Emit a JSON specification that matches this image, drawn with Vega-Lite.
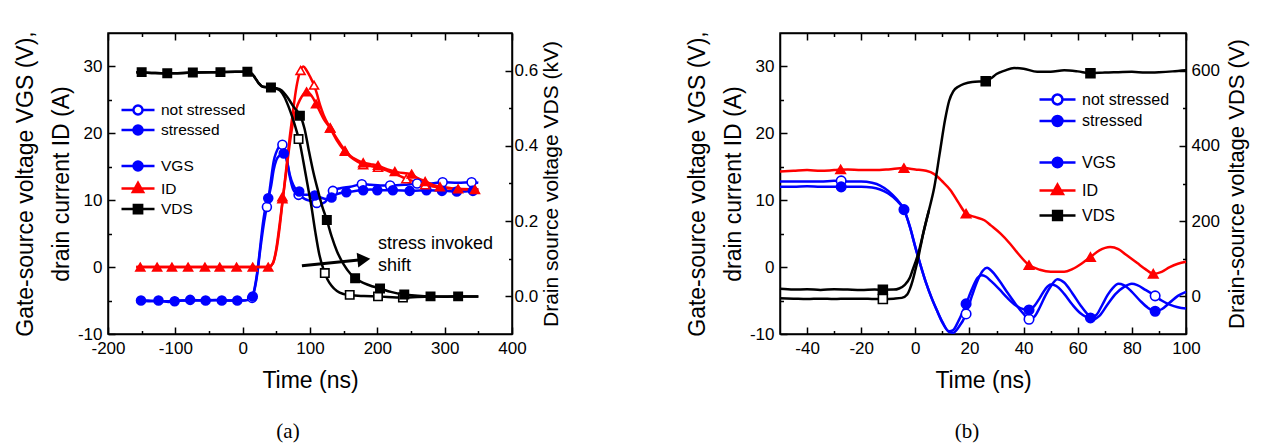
{
"$schema":"https://vega.github.io/schema/vega-lite/v6.json",
"padding":{"left":13,"top":29,"right":5,"bottom":0},
"background":"white",
"config":{
 "font":"Liberation Sans",
 "view":{"stroke":"black","strokeWidth":1.5},
 "axis":{"domainColor":"black","domainWidth":1.5,"tickColor":"black","tickWidth":1.5,"labelColor":"black","titleColor":"black","labelFont":"Liberation Sans","titleFont":"Liberation Sans","labelFontSize":17,"titleFontSize":23,"titleFontWeight":"normal","grid":false,"labelOverlap":false,"labelFlush":false,"labelBound":false},
 "legend":{"labelFont":"Liberation Sans","labelColor":"black"}
},
"datasets":{
"a":[
{"t":-155,"v":-5.0,"sig":"VGS","st":"s"},{"t":-140,"v":-5.1,"sig":"VGS","st":"s"},{"t":-125,"v":-5.0,"sig":"VGS","st":"s"},{"t":-110,"v":-5.2,"sig":"VGS","st":"s"},{"t":-100,"v":-5.1,"sig":"VGS","st":"s"},{"t":-90,"v":-5.0,"sig":"VGS","st":"s"},{"t":-75,"v":-4.9,"sig":"VGS","st":"s"},{"t":-60,"v":-5.0,"sig":"VGS","st":"s"},{"t":-50,"v":-5.0,"sig":"VGS","st":"s"},{"t":-40,"v":-4.9,"sig":"VGS","st":"s"},{"t":-25,"v":-5.0,"sig":"VGS","st":"s"},{"t":-10,"v":-5.0,"sig":"VGS","st":"s"},{"t":0,"v":-5.0,"sig":"VGS","st":"s"},{"t":8,"v":-4.9,"sig":"VGS","st":"s"},{"t":14,"v":-4.5,"sig":"VGS","st":"s"},{"t":18,"v":-3.0,"sig":"VGS","st":"s"},{"t":22,"v":-0.5,"sig":"VGS","st":"s"},{"t":26,"v":3.0,"sig":"VGS","st":"s"},{"t":30,"v":6.5,"sig":"VGS","st":"s"},{"t":34,"v":9.0,"sig":"VGS","st":"s"},{"t":38,"v":10.3,"sig":"VGS","st":"s"},{"t":42,"v":12.0,"sig":"VGS","st":"s"},{"t":46,"v":14.5,"sig":"VGS","st":"s"},{"t":50,"v":16.0,"sig":"VGS","st":"s"},{"t":55,"v":16.7,"sig":"VGS","st":"s"},{"t":60,"v":17.0,"sig":"VGS","st":"s"},{"t":63,"v":16.8,"sig":"VGS","st":"s"},{"t":66,"v":15.8,"sig":"VGS","st":"s"},{"t":70,"v":13.8,"sig":"VGS","st":"s"},{"t":75,"v":12.3,"sig":"VGS","st":"s"},{"t":80,"v":11.5,"sig":"VGS","st":"s"},{"t":85,"v":11.2,"sig":"VGS","st":"s"},{"t":92,"v":10.8,"sig":"VGS","st":"s"},{"t":100,"v":10.8,"sig":"VGS","st":"s"},{"t":108,"v":10.7,"sig":"VGS","st":"s"},{"t":116,"v":10.4,"sig":"VGS","st":"s"},{"t":124,"v":10.2,"sig":"VGS","st":"s"},{"t":132,"v":10.4,"sig":"VGS","st":"s"},{"t":140,"v":10.9,"sig":"VGS","st":"s"},{"t":150,"v":11.2,"sig":"VGS","st":"s"},{"t":160,"v":11.3,"sig":"VGS","st":"s"},{"t":175,"v":11.5,"sig":"VGS","st":"s"},{"t":190,"v":11.6,"sig":"VGS","st":"s"},{"t":205,"v":11.5,"sig":"VGS","st":"s"},{"t":225,"v":11.5,"sig":"VGS","st":"s"},{"t":250,"v":11.4,"sig":"VGS","st":"s"},{"t":275,"v":11.5,"sig":"VGS","st":"s"},{"t":300,"v":11.4,"sig":"VGS","st":"s"},{"t":325,"v":11.3,"sig":"VGS","st":"s"},{"t":350,"v":11.4,"sig":"VGS","st":"s"},
{"t":-155,"v":-5.0,"sig":"VGS","st":"n"},{"t":-140,"v":-5.0,"sig":"VGS","st":"n"},{"t":-125,"v":-5.1,"sig":"VGS","st":"n"},{"t":-110,"v":-5.1,"sig":"VGS","st":"n"},{"t":-100,"v":-5.0,"sig":"VGS","st":"n"},{"t":-75,"v":-5.0,"sig":"VGS","st":"n"},{"t":-50,"v":-4.9,"sig":"VGS","st":"n"},{"t":-25,"v":-5.0,"sig":"VGS","st":"n"},{"t":0,"v":-5.0,"sig":"VGS","st":"n"},{"t":8,"v":-4.9,"sig":"VGS","st":"n"},{"t":14,"v":-4.6,"sig":"VGS","st":"n"},{"t":18,"v":-3.2,"sig":"VGS","st":"n"},{"t":22,"v":-0.8,"sig":"VGS","st":"n"},{"t":26,"v":2.5,"sig":"VGS","st":"n"},{"t":30,"v":5.5,"sig":"VGS","st":"n"},{"t":34,"v":8.0,"sig":"VGS","st":"n"},{"t":38,"v":10.0,"sig":"VGS","st":"n"},{"t":42,"v":13.0,"sig":"VGS","st":"n"},{"t":46,"v":15.8,"sig":"VGS","st":"n"},{"t":50,"v":17.2,"sig":"VGS","st":"n"},{"t":54,"v":18.0,"sig":"VGS","st":"n"},{"t":58,"v":18.3,"sig":"VGS","st":"n"},{"t":62,"v":17.6,"sig":"VGS","st":"n"},{"t":66,"v":15.8,"sig":"VGS","st":"n"},{"t":70,"v":13.5,"sig":"VGS","st":"n"},{"t":75,"v":11.6,"sig":"VGS","st":"n"},{"t":80,"v":11.0,"sig":"VGS","st":"n"},{"t":86,"v":10.6,"sig":"VGS","st":"n"},{"t":92,"v":10.2,"sig":"VGS","st":"n"},{"t":100,"v":9.9,"sig":"VGS","st":"n"},{"t":108,"v":9.7,"sig":"VGS","st":"n"},{"t":116,"v":9.5,"sig":"VGS","st":"n"},{"t":122,"v":9.7,"sig":"VGS","st":"n"},{"t":128,"v":10.5,"sig":"VGS","st":"n"},{"t":134,"v":11.4,"sig":"VGS","st":"n"},{"t":145,"v":11.8,"sig":"VGS","st":"n"},{"t":160,"v":12.0,"sig":"VGS","st":"n"},{"t":177,"v":12.4,"sig":"VGS","st":"n"},{"t":190,"v":12.3,"sig":"VGS","st":"n"},{"t":205,"v":12.2,"sig":"VGS","st":"n"},{"t":220,"v":12.2,"sig":"VGS","st":"n"},{"t":240,"v":12.3,"sig":"VGS","st":"n"},{"t":260,"v":12.5,"sig":"VGS","st":"n"},{"t":280,"v":12.5,"sig":"VGS","st":"n"},{"t":297,"v":12.7,"sig":"VGS","st":"n"},{"t":320,"v":12.6,"sig":"VGS","st":"n"},{"t":340,"v":12.7,"sig":"VGS","st":"n"},{"t":350,"v":12.6,"sig":"VGS","st":"n"},
{"t":-158,"v":0,"sig":"ID","st":"s"},{"t":-120,"v":0,"sig":"ID","st":"s"},{"t":-80,"v":0,"sig":"ID","st":"s"},{"t":-40,"v":0,"sig":"ID","st":"s"},{"t":0,"v":0,"sig":"ID","st":"s"},{"t":30,"v":0,"sig":"ID","st":"s"},{"t":40,"v":0.1,"sig":"ID","st":"s"},{"t":45,"v":0.6,"sig":"ID","st":"s"},{"t":50,"v":2.5,"sig":"ID","st":"s"},{"t":55,"v":6.0,"sig":"ID","st":"s"},{"t":60,"v":10.5,"sig":"ID","st":"s"},{"t":65,"v":14.5,"sig":"ID","st":"s"},{"t":70,"v":18.5,"sig":"ID","st":"s"},{"t":75,"v":21.8,"sig":"ID","st":"s"},{"t":80,"v":23.8,"sig":"ID","st":"s"},{"t":85,"v":25.0,"sig":"ID","st":"s"},{"t":90,"v":25.8,"sig":"ID","st":"s"},{"t":95,"v":26.2,"sig":"ID","st":"s"},{"t":100,"v":25.9,"sig":"ID","st":"s"},{"t":105,"v":25.2,"sig":"ID","st":"s"},{"t":110,"v":24.2,"sig":"ID","st":"s"},{"t":115,"v":23.2,"sig":"ID","st":"s"},{"t":120,"v":22.2,"sig":"ID","st":"s"},{"t":130,"v":20.8,"sig":"ID","st":"s"},{"t":140,"v":19.2,"sig":"ID","st":"s"},{"t":150,"v":17.7,"sig":"ID","st":"s"},{"t":160,"v":16.6,"sig":"ID","st":"s"},{"t":170,"v":16.0,"sig":"ID","st":"s"},{"t":180,"v":15.6,"sig":"ID","st":"s"},{"t":190,"v":15.4,"sig":"ID","st":"s"},{"t":200,"v":15.2,"sig":"ID","st":"s"},{"t":215,"v":14.6,"sig":"ID","st":"s"},{"t":230,"v":14.2,"sig":"ID","st":"s"},{"t":250,"v":13.9,"sig":"ID","st":"s"},{"t":260,"v":13.3,"sig":"ID","st":"s"},{"t":272,"v":12.8,"sig":"ID","st":"s"},{"t":285,"v":12.2,"sig":"ID","st":"s"},{"t":295,"v":12.0,"sig":"ID","st":"s"},{"t":310,"v":11.8,"sig":"ID","st":"s"},{"t":330,"v":11.6,"sig":"ID","st":"s"},{"t":350,"v":11.6,"sig":"ID","st":"s"},
{"t":-158,"v":0,"sig":"ID","st":"n"},{"t":-120,"v":0,"sig":"ID","st":"n"},{"t":-80,"v":0,"sig":"ID","st":"n"},{"t":-40,"v":0,"sig":"ID","st":"n"},{"t":0,"v":0,"sig":"ID","st":"n"},{"t":30,"v":0,"sig":"ID","st":"n"},{"t":40,"v":0.1,"sig":"ID","st":"n"},{"t":45,"v":0.6,"sig":"ID","st":"n"},{"t":50,"v":2.8,"sig":"ID","st":"n"},{"t":55,"v":6.5,"sig":"ID","st":"n"},{"t":60,"v":10.5,"sig":"ID","st":"n"},{"t":65,"v":15.0,"sig":"ID","st":"n"},{"t":70,"v":19.5,"sig":"ID","st":"n"},{"t":75,"v":23.5,"sig":"ID","st":"n"},{"t":80,"v":27.0,"sig":"ID","st":"n"},{"t":85,"v":29.2,"sig":"ID","st":"n"},{"t":90,"v":30.0,"sig":"ID","st":"n"},{"t":95,"v":29.4,"sig":"ID","st":"n"},{"t":100,"v":28.5,"sig":"ID","st":"n"},{"t":106,"v":27.2,"sig":"ID","st":"n"},{"t":110,"v":26.0,"sig":"ID","st":"n"},{"t":115,"v":24.2,"sig":"ID","st":"n"},{"t":120,"v":22.8,"sig":"ID","st":"n"},{"t":130,"v":20.8,"sig":"ID","st":"n"},{"t":140,"v":18.9,"sig":"ID","st":"n"},{"t":150,"v":17.5,"sig":"ID","st":"n"},{"t":160,"v":16.5,"sig":"ID","st":"n"},{"t":170,"v":15.8,"sig":"ID","st":"n"},{"t":180,"v":15.3,"sig":"ID","st":"n"},{"t":190,"v":15.1,"sig":"ID","st":"n"},{"t":200,"v":14.9,"sig":"ID","st":"n"},{"t":215,"v":14.4,"sig":"ID","st":"n"},{"t":230,"v":13.8,"sig":"ID","st":"n"},{"t":243,"v":13.2,"sig":"ID","st":"n"},{"t":255,"v":12.8,"sig":"ID","st":"n"},{"t":270,"v":12.3,"sig":"ID","st":"n"},{"t":285,"v":12.0,"sig":"ID","st":"n"},{"t":300,"v":11.8,"sig":"ID","st":"n"},{"t":320,"v":11.7,"sig":"ID","st":"n"},{"t":350,"v":11.6,"sig":"ID","st":"n"},
{"t":-158,"v":0.596,"sig":"VDS","st":"s"},{"t":-130,"v":0.594,"sig":"VDS","st":"s"},{"t":-100,"v":0.593,"sig":"VDS","st":"s"},{"t":-70,"v":0.595,"sig":"VDS","st":"s"},{"t":-40,"v":0.596,"sig":"VDS","st":"s"},{"t":-10,"v":0.597,"sig":"VDS","st":"s"},{"t":5,"v":0.597,"sig":"VDS","st":"s"},{"t":12,"v":0.594,"sig":"VDS","st":"s"},{"t":18,"v":0.582,"sig":"VDS","st":"s"},{"t":24,"v":0.566,"sig":"VDS","st":"s"},{"t":30,"v":0.557,"sig":"VDS","st":"s"},{"t":40,"v":0.555,"sig":"VDS","st":"s"},{"t":50,"v":0.553,"sig":"VDS","st":"s"},{"t":58,"v":0.547,"sig":"VDS","st":"s"},{"t":64,"v":0.535,"sig":"VDS","st":"s"},{"t":70,"v":0.52,"sig":"VDS","st":"s"},{"t":76,"v":0.503,"sig":"VDS","st":"s"},{"t":82,"v":0.49,"sig":"VDS","st":"s"},{"t":86,"v":0.478,"sig":"VDS","st":"s"},{"t":92,"v":0.445,"sig":"VDS","st":"s"},{"t":98,"v":0.39,"sig":"VDS","st":"s"},{"t":105,"v":0.33,"sig":"VDS","st":"s"},{"t":112,"v":0.28,"sig":"VDS","st":"s"},{"t":118,"v":0.24,"sig":"VDS","st":"s"},{"t":125,"v":0.203,"sig":"VDS","st":"s"},{"t":132,"v":0.16,"sig":"VDS","st":"s"},{"t":140,"v":0.12,"sig":"VDS","st":"s"},{"t":150,"v":0.085,"sig":"VDS","st":"s"},{"t":160,"v":0.06,"sig":"VDS","st":"s"},{"t":167,"v":0.048,"sig":"VDS","st":"s"},{"t":180,"v":0.035,"sig":"VDS","st":"s"},{"t":192,"v":0.027,"sig":"VDS","st":"s"},{"t":204,"v":0.021,"sig":"VDS","st":"s"},{"t":220,"v":0.012,"sig":"VDS","st":"s"},{"t":240,"v":0.005,"sig":"VDS","st":"s"},{"t":260,"v":0.002,"sig":"VDS","st":"s"},{"t":280,"v":0.0,"sig":"VDS","st":"s"},{"t":300,"v":-0.001,"sig":"VDS","st":"s"},{"t":320,"v":0.0,"sig":"VDS","st":"s"},{"t":350,"v":0.0,"sig":"VDS","st":"s"},
{"t":-158,"v":0.596,"sig":"VDS","st":"n"},{"t":-130,"v":0.594,"sig":"VDS","st":"n"},{"t":-100,"v":0.593,"sig":"VDS","st":"n"},{"t":-70,"v":0.595,"sig":"VDS","st":"n"},{"t":-40,"v":0.596,"sig":"VDS","st":"n"},{"t":-10,"v":0.597,"sig":"VDS","st":"n"},{"t":5,"v":0.597,"sig":"VDS","st":"n"},{"t":12,"v":0.594,"sig":"VDS","st":"n"},{"t":18,"v":0.582,"sig":"VDS","st":"n"},{"t":24,"v":0.566,"sig":"VDS","st":"n"},{"t":30,"v":0.557,"sig":"VDS","st":"n"},{"t":40,"v":0.555,"sig":"VDS","st":"n"},{"t":50,"v":0.552,"sig":"VDS","st":"n"},{"t":56,"v":0.546,"sig":"VDS","st":"n"},{"t":62,"v":0.53,"sig":"VDS","st":"n"},{"t":68,"v":0.505,"sig":"VDS","st":"n"},{"t":74,"v":0.475,"sig":"VDS","st":"n"},{"t":80,"v":0.44,"sig":"VDS","st":"n"},{"t":84,"v":0.415,"sig":"VDS","st":"n"},{"t":90,"v":0.36,"sig":"VDS","st":"n"},{"t":96,"v":0.3,"sig":"VDS","st":"n"},{"t":102,"v":0.24,"sig":"VDS","st":"n"},{"t":108,"v":0.17,"sig":"VDS","st":"n"},{"t":114,"v":0.11,"sig":"VDS","st":"n"},{"t":120,"v":0.072,"sig":"VDS","st":"n"},{"t":126,"v":0.045,"sig":"VDS","st":"n"},{"t":132,"v":0.028,"sig":"VDS","st":"n"},{"t":140,"v":0.014,"sig":"VDS","st":"n"},{"t":150,"v":0.006,"sig":"VDS","st":"n"},{"t":160,"v":0.003,"sig":"VDS","st":"n"},{"t":180,"v":0.001,"sig":"VDS","st":"n"},{"t":200,"v":0.0,"sig":"VDS","st":"n"},{"t":238,"v":-0.003,"sig":"VDS","st":"n"},{"t":280,"v":0.0,"sig":"VDS","st":"n"},{"t":350,"v":0.0,"sig":"VDS","st":"n"}
],
"aMark":[
{"t":14,"v":-4.6,"sig":"VGS","st":"n"},{"t":36,"v":9.0,"sig":"VGS","st":"n"},{"t":59,"v":18.3,"sig":"VGS","st":"n"},{"t":83,"v":10.8,"sig":"VGS","st":"n"},{"t":110,"v":9.6,"sig":"VGS","st":"n"},{"t":134,"v":11.4,"sig":"VGS","st":"n"},{"t":177,"v":12.4,"sig":"VGS","st":"n"},{"t":219,"v":12.2,"sig":"VGS","st":"n"},{"t":259,"v":12.5,"sig":"VGS","st":"n"},{"t":297,"v":12.7,"sig":"VGS","st":"n"},{"t":340,"v":12.7,"sig":"VGS","st":"n"},
{"t":-151,"v":-5.0,"sig":"VGS","st":"s"},{"t":-125,"v":-5.0,"sig":"VGS","st":"s"},{"t":-101,"v":-5.1,"sig":"VGS","st":"s"},{"t":-78,"v":-4.9,"sig":"VGS","st":"s"},{"t":-55,"v":-5.0,"sig":"VGS","st":"s"},{"t":-31,"v":-5.0,"sig":"VGS","st":"s"},{"t":-8,"v":-5.0,"sig":"VGS","st":"s"},{"t":15,"v":-4.4,"sig":"VGS","st":"s"},{"t":38,"v":10.3,"sig":"VGS","st":"s"},{"t":61,"v":17.0,"sig":"VGS","st":"s"},{"t":84,"v":11.3,"sig":"VGS","st":"s"},{"t":107,"v":10.7,"sig":"VGS","st":"s"},{"t":132,"v":10.4,"sig":"VGS","st":"s"},{"t":154,"v":11.2,"sig":"VGS","st":"s"},{"t":179,"v":11.5,"sig":"VGS","st":"s"},{"t":200,"v":11.5,"sig":"VGS","st":"s"},{"t":223,"v":11.5,"sig":"VGS","st":"s"},{"t":248,"v":11.4,"sig":"VGS","st":"s"},{"t":273,"v":11.5,"sig":"VGS","st":"s"},{"t":296,"v":11.4,"sig":"VGS","st":"s"},{"t":318,"v":11.3,"sig":"VGS","st":"s"},{"t":342,"v":11.4,"sig":"VGS","st":"s"},
{"t":59,"v":10.5,"sig":"ID","st":"n"},{"t":86,"v":29.4,"sig":"ID","st":"n"},{"t":106,"v":27.2,"sig":"ID","st":"n"},{"t":130,"v":20.8,"sig":"ID","st":"n"},{"t":152,"v":17.3,"sig":"ID","st":"n"},{"t":179,"v":15.3,"sig":"ID","st":"n"},{"t":201,"v":14.9,"sig":"ID","st":"n"},{"t":243,"v":13.2,"sig":"ID","st":"n"},{"t":271,"v":12.3,"sig":"ID","st":"n"},
{"t":-152,"v":0,"sig":"ID","st":"s"},{"t":-127,"v":0,"sig":"ID","st":"s"},{"t":-105,"v":0,"sig":"ID","st":"s"},{"t":-81,"v":0,"sig":"ID","st":"s"},{"t":-56,"v":0,"sig":"ID","st":"s"},{"t":-34,"v":0,"sig":"ID","st":"s"},{"t":-9,"v":0,"sig":"ID","st":"s"},{"t":15,"v":0,"sig":"ID","st":"s"},{"t":38,"v":0,"sig":"ID","st":"s"},{"t":59,"v":10.2,"sig":"ID","st":"s"},{"t":95,"v":26.2,"sig":"ID","st":"s"},{"t":109,"v":24.4,"sig":"ID","st":"s"},{"t":130,"v":20.8,"sig":"ID","st":"s"},{"t":152,"v":17.4,"sig":"ID","st":"s"},{"t":179,"v":15.6,"sig":"ID","st":"s"},{"t":201,"v":15.2,"sig":"ID","st":"s"},{"t":226,"v":14.3,"sig":"ID","st":"s"},{"t":251,"v":13.9,"sig":"ID","st":"s"},{"t":271,"v":12.8,"sig":"ID","st":"s"},{"t":293,"v":12.0,"sig":"ID","st":"s"},{"t":320,"v":11.7,"sig":"ID","st":"s"},{"t":345,"v":11.6,"sig":"ID","st":"s"},
{"t":83,"v":0.418,"sig":"VDS","st":"n"},{"t":122,"v":0.062,"sig":"VDS","st":"n"},{"t":159,"v":0.004,"sig":"VDS","st":"n"},{"t":201,"v":0.0,"sig":"VDS","st":"n"},{"t":238,"v":-0.003,"sig":"VDS","st":"n"},
{"t":-150,"v":0.596,"sig":"VDS","st":"s"},{"t":-112,"v":0.593,"sig":"VDS","st":"s"},{"t":-74,"v":0.595,"sig":"VDS","st":"s"},{"t":-33,"v":0.596,"sig":"VDS","st":"s"},{"t":7,"v":0.597,"sig":"VDS","st":"s"},{"t":42,"v":0.555,"sig":"VDS","st":"s"},{"t":85,"v":0.48,"sig":"VDS","st":"s"},{"t":125,"v":0.203,"sig":"VDS","st":"s"},{"t":167,"v":0.048,"sig":"VDS","st":"s"},{"t":204,"v":0.021,"sig":"VDS","st":"s"},{"t":240,"v":0.005,"sig":"VDS","st":"s"},{"t":279,"v":0.0,"sig":"VDS","st":"s"},{"t":320,"v":0.0,"sig":"VDS","st":"s"}
],
"ann":[{"t":201,"v":4.8,"label":"stress invoked\nshift"}],
"arrow":[{"t":88,"v":0.2},{"t":176,"v":1.1}],
"head":[{"t":180,"v":1.15}],
"b":[
{"t":-50,"v":12.0,"sig":"VGS","st":"s"},{"t":-45,"v":12.0,"sig":"VGS","st":"s"},{"t":-40,"v":12.1,"sig":"VGS","st":"s"},{"t":-35,"v":12.0,"sig":"VGS","st":"s"},{"t":-30,"v":12.0,"sig":"VGS","st":"s"},{"t":-25,"v":12.0,"sig":"VGS","st":"s"},{"t":-20,"v":12.0,"sig":"VGS","st":"s"},{"t":-16,"v":11.9,"sig":"VGS","st":"s"},{"t":-13,"v":11.6,"sig":"VGS","st":"s"},{"t":-10,"v":11.0,"sig":"VGS","st":"s"},{"t":-7,"v":10.0,"sig":"VGS","st":"s"},{"t":-4.2,"v":8.6,"sig":"VGS","st":"s"},{"t":-2,"v":6.0,"sig":"VGS","st":"s"},{"t":0,"v":3.0,"sig":"VGS","st":"s"},{"t":2,"v":0.2,"sig":"VGS","st":"s"},{"t":4,"v":-2.4,"sig":"VGS","st":"s"},{"t":6,"v":-4.6,"sig":"VGS","st":"s"},{"t":8,"v":-6.5,"sig":"VGS","st":"s"},{"t":10,"v":-8.2,"sig":"VGS","st":"s"},{"t":12.5,"v":-9.6,"sig":"VGS","st":"s"},{"t":14,"v":-9.4,"sig":"VGS","st":"s"},{"t":16,"v":-8.0,"sig":"VGS","st":"s"},{"t":18.75,"v":-5.5,"sig":"VGS","st":"s"},{"t":21,"v":-3.2,"sig":"VGS","st":"s"},{"t":23,"v":-1.6,"sig":"VGS","st":"s"},{"t":24.5,"v":-1.2,"sig":"VGS","st":"s"},{"t":26,"v":-1.4,"sig":"VGS","st":"s"},{"t":28,"v":-2.1,"sig":"VGS","st":"s"},{"t":31,"v":-3.3,"sig":"VGS","st":"s"},{"t":34,"v":-4.6,"sig":"VGS","st":"s"},{"t":37,"v":-5.7,"sig":"VGS","st":"s"},{"t":40,"v":-6.3,"sig":"VGS","st":"s"},{"t":42,"v":-6.4,"sig":"VGS","st":"s"},{"t":44,"v":-5.8,"sig":"VGS","st":"s"},{"t":46,"v":-4.6,"sig":"VGS","st":"s"},{"t":48,"v":-3.3,"sig":"VGS","st":"s"},{"t":50,"v":-2.6,"sig":"VGS","st":"s"},{"t":52,"v":-2.8,"sig":"VGS","st":"s"},{"t":55,"v":-4.0,"sig":"VGS","st":"s"},{"t":58,"v":-5.6,"sig":"VGS","st":"s"},{"t":61,"v":-6.9,"sig":"VGS","st":"s"},{"t":64.7,"v":-7.6,"sig":"VGS","st":"s"},{"t":67,"v":-7.1,"sig":"VGS","st":"s"},{"t":69,"v":-5.7,"sig":"VGS","st":"s"},{"t":71,"v":-4.2,"sig":"VGS","st":"s"},{"t":73,"v":-3.1,"sig":"VGS","st":"s"},{"t":75,"v":-2.5,"sig":"VGS","st":"s"},{"t":77,"v":-2.7,"sig":"VGS","st":"s"},{"t":80,"v":-3.7,"sig":"VGS","st":"s"},{"t":83,"v":-5.0,"sig":"VGS","st":"s"},{"t":86,"v":-6.1,"sig":"VGS","st":"s"},{"t":88.6,"v":-6.6,"sig":"VGS","st":"s"},{"t":91,"v":-6.3,"sig":"VGS","st":"s"},{"t":94,"v":-5.3,"sig":"VGS","st":"s"},{"t":97,"v":-4.3,"sig":"VGS","st":"s"},{"t":100,"v":-3.7,"sig":"VGS","st":"s"},
{"t":-50,"v":12.8,"sig":"VGS","st":"n"},{"t":-45,"v":12.8,"sig":"VGS","st":"n"},{"t":-40,"v":12.8,"sig":"VGS","st":"n"},{"t":-35,"v":12.8,"sig":"VGS","st":"n"},{"t":-30,"v":12.9,"sig":"VGS","st":"n"},{"t":-25,"v":12.8,"sig":"VGS","st":"n"},{"t":-20,"v":12.8,"sig":"VGS","st":"n"},{"t":-16,"v":12.6,"sig":"VGS","st":"n"},{"t":-13,"v":12.2,"sig":"VGS","st":"n"},{"t":-10,"v":11.4,"sig":"VGS","st":"n"},{"t":-7,"v":10.2,"sig":"VGS","st":"n"},{"t":-4.2,"v":8.6,"sig":"VGS","st":"n"},{"t":-2,"v":6.0,"sig":"VGS","st":"n"},{"t":0,"v":3.0,"sig":"VGS","st":"n"},{"t":2,"v":0.2,"sig":"VGS","st":"n"},{"t":4,"v":-2.4,"sig":"VGS","st":"n"},{"t":6,"v":-4.6,"sig":"VGS","st":"n"},{"t":8,"v":-6.5,"sig":"VGS","st":"n"},{"t":10,"v":-8.3,"sig":"VGS","st":"n"},{"t":12.5,"v":-9.7,"sig":"VGS","st":"n"},{"t":14,"v":-9.8,"sig":"VGS","st":"n"},{"t":16,"v":-9.0,"sig":"VGS","st":"n"},{"t":18.75,"v":-7.0,"sig":"VGS","st":"n"},{"t":21,"v":-4.2,"sig":"VGS","st":"n"},{"t":23,"v":-2.0,"sig":"VGS","st":"n"},{"t":25,"v":-0.5,"sig":"VGS","st":"n"},{"t":26.5,"v":-0.1,"sig":"VGS","st":"n"},{"t":28,"v":-0.5,"sig":"VGS","st":"n"},{"t":31,"v":-2.0,"sig":"VGS","st":"n"},{"t":34,"v":-3.8,"sig":"VGS","st":"n"},{"t":37,"v":-5.5,"sig":"VGS","st":"n"},{"t":40,"v":-7.0,"sig":"VGS","st":"n"},{"t":42,"v":-7.8,"sig":"VGS","st":"n"},{"t":44,"v":-7.4,"sig":"VGS","st":"n"},{"t":46,"v":-6.0,"sig":"VGS","st":"n"},{"t":48,"v":-4.3,"sig":"VGS","st":"n"},{"t":50,"v":-2.9,"sig":"VGS","st":"n"},{"t":52.5,"v":-1.8,"sig":"VGS","st":"n"},{"t":55,"v":-2.3,"sig":"VGS","st":"n"},{"t":58,"v":-3.9,"sig":"VGS","st":"n"},{"t":61,"v":-5.7,"sig":"VGS","st":"n"},{"t":64,"v":-7.2,"sig":"VGS","st":"n"},{"t":66,"v":-7.8,"sig":"VGS","st":"n"},{"t":68,"v":-7.3,"sig":"VGS","st":"n"},{"t":71,"v":-5.6,"sig":"VGS","st":"n"},{"t":74,"v":-4.0,"sig":"VGS","st":"n"},{"t":77,"v":-3.0,"sig":"VGS","st":"n"},{"t":80,"v":-2.5,"sig":"VGS","st":"n"},{"t":82,"v":-2.7,"sig":"VGS","st":"n"},{"t":85,"v":-3.4,"sig":"VGS","st":"n"},{"t":88.6,"v":-4.3,"sig":"VGS","st":"n"},{"t":91,"v":-5.0,"sig":"VGS","st":"n"},{"t":94,"v":-5.6,"sig":"VGS","st":"n"},{"t":97,"v":-6.0,"sig":"VGS","st":"n"},{"t":100,"v":-6.2,"sig":"VGS","st":"n"},
{"t":-50,"v":14.3,"sig":"ID","st":"s"},{"t":-45,"v":14.4,"sig":"ID","st":"s"},{"t":-40,"v":14.5,"sig":"ID","st":"s"},{"t":-35,"v":14.4,"sig":"ID","st":"s"},{"t":-30,"v":14.5,"sig":"ID","st":"s"},{"t":-25,"v":14.6,"sig":"ID","st":"s"},{"t":-20,"v":14.5,"sig":"ID","st":"s"},{"t":-15,"v":14.5,"sig":"ID","st":"s"},{"t":-10,"v":14.6,"sig":"ID","st":"s"},{"t":-4.2,"v":14.8,"sig":"ID","st":"s"},{"t":0,"v":14.6,"sig":"ID","st":"s"},{"t":4,"v":14.4,"sig":"ID","st":"s"},{"t":7,"v":13.9,"sig":"ID","st":"s"},{"t":10,"v":12.8,"sig":"ID","st":"s"},{"t":13,"v":11.5,"sig":"ID","st":"s"},{"t":16,"v":9.6,"sig":"ID","st":"s"},{"t":18.75,"v":8.0,"sig":"ID","st":"s"},{"t":22,"v":7.5,"sig":"ID","st":"s"},{"t":25.5,"v":7.0,"sig":"ID","st":"s"},{"t":28,"v":6.2,"sig":"ID","st":"s"},{"t":31.5,"v":5.0,"sig":"ID","st":"s"},{"t":35,"v":3.5,"sig":"ID","st":"s"},{"t":38,"v":2.0,"sig":"ID","st":"s"},{"t":42,"v":0.3,"sig":"ID","st":"s"},{"t":46,"v":-0.4,"sig":"ID","st":"s"},{"t":50,"v":-0.7,"sig":"ID","st":"s"},{"t":55,"v":-0.7,"sig":"ID","st":"s"},{"t":58,"v":-0.3,"sig":"ID","st":"s"},{"t":62,"v":0.7,"sig":"ID","st":"s"},{"t":64.7,"v":1.5,"sig":"ID","st":"s"},{"t":68,"v":2.5,"sig":"ID","st":"s"},{"t":72,"v":3.0,"sig":"ID","st":"s"},{"t":75,"v":2.7,"sig":"ID","st":"s"},{"t":78,"v":1.8,"sig":"ID","st":"s"},{"t":82,"v":0.6,"sig":"ID","st":"s"},{"t":85,"v":-0.3,"sig":"ID","st":"s"},{"t":87.9,"v":-1.0,"sig":"ID","st":"s"},{"t":91,"v":-0.7,"sig":"ID","st":"s"},{"t":94,"v":0.0,"sig":"ID","st":"s"},{"t":97,"v":0.5,"sig":"ID","st":"s"},{"t":100,"v":0.8,"sig":"ID","st":"s"},
{"t":-50,"v":20,"sig":"VDS","st":"s"},{"t":-45,"v":18,"sig":"VDS","st":"s"},{"t":-40,"v":19,"sig":"VDS","st":"s"},{"t":-35,"v":17,"sig":"VDS","st":"s"},{"t":-30,"v":19,"sig":"VDS","st":"s"},{"t":-25,"v":18,"sig":"VDS","st":"s"},{"t":-20,"v":17,"sig":"VDS","st":"s"},{"t":-15,"v":18,"sig":"VDS","st":"s"},{"t":-12,"v":17.7,"sig":"VDS","st":"s"},{"t":-8,"v":18,"sig":"VDS","st":"s"},{"t":-6,"v":21,"sig":"VDS","st":"s"},{"t":-4,"v":30,"sig":"VDS","st":"s"},{"t":-2,"v":50,"sig":"VDS","st":"s"},{"t":-1,"v":70,"sig":"VDS","st":"s"},{"t":0,"v":90,"sig":"VDS","st":"s"},{"t":1,"v":112,"sig":"VDS","st":"s"},{"t":3,"v":170,"sig":"VDS","st":"s"},{"t":5,"v":228,"sig":"VDS","st":"s"},{"t":7,"v":290,"sig":"VDS","st":"s"},{"t":9,"v":380,"sig":"VDS","st":"s"},{"t":11,"v":470,"sig":"VDS","st":"s"},{"t":12.5,"v":520,"sig":"VDS","st":"s"},{"t":14,"v":545,"sig":"VDS","st":"s"},{"t":16,"v":558,"sig":"VDS","st":"s"},{"t":18,"v":565,"sig":"VDS","st":"s"},{"t":21,"v":570,"sig":"VDS","st":"s"},{"t":26,"v":572,"sig":"VDS","st":"s"},{"t":28,"v":580,"sig":"VDS","st":"s"},{"t":30,"v":591,"sig":"VDS","st":"s"},{"t":33,"v":600,"sig":"VDS","st":"s"},{"t":36.5,"v":607,"sig":"VDS","st":"s"},{"t":40,"v":605,"sig":"VDS","st":"s"},{"t":45,"v":597,"sig":"VDS","st":"s"},{"t":50,"v":597,"sig":"VDS","st":"s"},{"t":55,"v":601,"sig":"VDS","st":"s"},{"t":60,"v":598,"sig":"VDS","st":"s"},{"t":64.7,"v":593,"sig":"VDS","st":"s"},{"t":70,"v":595,"sig":"VDS","st":"s"},{"t":75,"v":596,"sig":"VDS","st":"s"},{"t":80,"v":597,"sig":"VDS","st":"s"},{"t":85,"v":595,"sig":"VDS","st":"s"},{"t":90,"v":596,"sig":"VDS","st":"s"},{"t":95,"v":598,"sig":"VDS","st":"s"},{"t":100,"v":601,"sig":"VDS","st":"s"},
{"t":-50,"v":-5,"sig":"VDS","st":"n"},{"t":-45,"v":-6,"sig":"VDS","st":"n"},{"t":-40,"v":-7,"sig":"VDS","st":"n"},{"t":-35,"v":-6,"sig":"VDS","st":"n"},{"t":-30,"v":-7,"sig":"VDS","st":"n"},{"t":-25,"v":-6,"sig":"VDS","st":"n"},{"t":-20,"v":-6,"sig":"VDS","st":"n"},{"t":-15,"v":-7,"sig":"VDS","st":"n"},{"t":-12,"v":-7,"sig":"VDS","st":"n"},{"t":-8,"v":-6,"sig":"VDS","st":"n"},{"t":-5,"v":-4,"sig":"VDS","st":"n"},{"t":-3,"v":5,"sig":"VDS","st":"n"},{"t":-2,"v":20,"sig":"VDS","st":"n"},{"t":-1,"v":42,"sig":"VDS","st":"n"},{"t":0,"v":70,"sig":"VDS","st":"n"},{"t":1,"v":100,"sig":"VDS","st":"n"},{"t":2,"v":135,"sig":"VDS","st":"n"},{"t":3,"v":170,"sig":"VDS","st":"n"},{"t":5,"v":228,"sig":"VDS","st":"n"}
],
"bMark":[
{"t":-27.4,"v":12.9,"sig":"VGS","st":"n"},{"t":18.75,"v":-7.0,"sig":"VGS","st":"n"},{"t":42,"v":-7.8,"sig":"VGS","st":"n"},{"t":88.6,"v":-4.3,"sig":"VGS","st":"n"},
{"t":-27.4,"v":12.0,"sig":"VGS","st":"s"},{"t":-4.2,"v":8.6,"sig":"VGS","st":"s"},{"t":18.75,"v":-5.5,"sig":"VGS","st":"s"},{"t":42,"v":-6.4,"sig":"VGS","st":"s"},{"t":64.7,"v":-7.6,"sig":"VGS","st":"s"},{"t":88.6,"v":-6.6,"sig":"VGS","st":"s"},
{"t":-27.6,"v":14.6,"sig":"ID","st":"s"},{"t":-4.2,"v":14.8,"sig":"ID","st":"s"},{"t":18.75,"v":8.0,"sig":"ID","st":"s"},{"t":42,"v":0.3,"sig":"ID","st":"s"},{"t":64.7,"v":1.5,"sig":"ID","st":"s"},{"t":87.9,"v":-1.0,"sig":"ID","st":"s"},
{"t":-12,"v":-7,"sig":"VDS","st":"n"},
{"t":-12,"v":17.7,"sig":"VDS","st":"s"},{"t":26,"v":572,"sig":"VDS","st":"s"},{"t":64.7,"v":593,"sig":"VDS","st":"s"}
]
},
"hconcat":[
{
"width":404,"height":301,
"title":{"text":"(a)","orient":"bottom","font":"Liberation Serif","fontSize":21,"fontWeight":"normal","offset":28,"anchor":"middle","frame":"bounds","color":"black"},
"layer":[
 {
 "encoding":{
  "x":{"field":"t","type":"quantitative","scale":{"domain":[-200,400],"nice":false},"axis":{"orient":"bottom","values":[-200,-150,-100,-50,0,50,100,150,200,250,300,350,400],"labelExpr":"datum.value % 100 == 0 ? '' + datum.value : ''","tickSize":{"condition":{"test":"datum.value % 100 != 0","value":-3.5},"value":-7},"labelPadding":13,"title":"Time (ns)","titlePadding":10}},
  "y":{"field":"v","type":"quantitative","scale":{"domain":[-10,35],"nice":false,"zero":false},"axis":{"orient":"left","values":[-10,-5,0,5,10,15,20,25,30],"labelExpr":"datum.value % 10 == 0 ? '' + datum.value : ''","tickSize":{"condition":{"test":"datum.value % 10 != 0","value":-3.5},"value":-7},"labelPadding":13,"title":["Gate-source voltage VGS (V),","drain current ID (A)"],"titleLineHeight":36,"titlePadding":4}}
 },
 "layer":[
  {"data":{"name":"a"},"transform":[{"filter":"datum.sig != 'VDS'"}],"mark":{"type":"line","strokeWidth":2.5,"interpolate":"monotone"},
   "encoding":{"detail":{"field":"st"},
    "stroke":{"field":"sig","type":"nominal","scale":{"domain":["VGS","ID","VDS"],"range":["#0000ff","#ff0000","#000000"]},"legend":{"title":null,"orient":"none","legendX":21,"legendY":124,"padding":0,"symbolSize":225,"symbolStrokeWidth":2.5,"symbolOpacity":1,"symbolFillColor":"transparent","labelFontSize":15.5,"labelOffset":14,"rowPadding":1.5}}}},
  {"data":{"name":"aMark"},"transform":[{"filter":"datum.sig == 'VGS'"},{"calculate":"datum.st=='n'?'not stressed':(datum.sig=='VGS'?'stressed':datum.sig)","as":"fk"}],"mark":{"type":"point","shape":"circle","filled":true,"size":80,"strokeWidth":1.6,"opacity":1},
   "encoding":{
    "stroke":{"field":"sig","type":"nominal","scale":{"domain":["VGS","ID","VDS"],"range":["#0000ff","#ff0000","#000000"]},"legend":{"title":null,"orient":"none","legendX":21,"legendY":124,"padding":0,"symbolSize":225,"symbolStrokeWidth":2.5,"symbolOpacity":1,"symbolFillColor":"transparent","labelFontSize":15.5,"labelOffset":14,"rowPadding":1.5}},
    "fill":{"field":"fk","type":"nominal","scale":{"domain":["not stressed","stressed","ID","VDS"],"range":["#ffffff","#0000ff","#ff0000","#000000"]},"legend":{"title":null,"orient":"none","legendX":21,"legendY":68,"padding":0,"values":["not stressed","stressed"],"symbolType":"M-2.2,0L-0.61,0M0.61,0L2.2,0M0.61,0A0.61,0.61,0,1,1,-0.61,0A0.61,0.61,0,1,1,0.61,0Z","symbolSize":225,"symbolStrokeColor":"#0000ff","symbolStrokeWidth":2.5,"symbolOpacity":1,"labelFontSize":15.5,"labelOffset":14,"rowPadding":0}}
   }},
  {"data":{"name":"aMark"},"transform":[{"filter":"datum.sig == 'ID'"},{"calculate":"datum.st=='n'?'not stressed':(datum.sig=='VGS'?'stressed':datum.sig)","as":"fk"}],"mark":{"type":"point","shape":"triangle-up","filled":true,"size":80,"strokeWidth":1.6,"opacity":1},
   "encoding":{
    "stroke":{"field":"sig","type":"nominal","scale":{"domain":["VGS","ID","VDS"],"range":["#0000ff","#ff0000","#000000"]},"legend":{"title":null,"orient":"none","legendX":21,"legendY":124,"padding":0,"symbolSize":225,"symbolStrokeWidth":2.5,"symbolOpacity":1,"symbolFillColor":"transparent","labelFontSize":15.5,"labelOffset":14,"rowPadding":1.5}},
    "fill":{"field":"fk","type":"nominal","scale":{"domain":["not stressed","stressed","ID","VDS"],"range":["#ffffff","#0000ff","#ff0000","#000000"]},"legend":{"title":null,"orient":"none","legendX":21,"legendY":68,"padding":0,"values":["not stressed","stressed"],"symbolType":"M-2.2,0L-0.61,0M0.61,0L2.2,0M0.61,0A0.61,0.61,0,1,1,-0.61,0A0.61,0.61,0,1,1,0.61,0Z","symbolSize":225,"symbolStrokeColor":"#0000ff","symbolStrokeWidth":2.5,"symbolOpacity":1,"labelFontSize":15.5,"labelOffset":14,"rowPadding":0}}
   }},
  {"data":{"name":"aMark"},"transform":[{"filter":"datum.sig != 'VDS'"}],"mark":{"type":"point","filled":false,"size":10,"opacity":0,"clip":true},
   "encoding":{
    "shape":{"field":"sig","type":"nominal","scale":{"domain":["VGS","ID","VDS"],"range":["M-2.2,0L2.2,0M0.6,0A0.6,0.6,0,1,1,-0.6,0A0.6,0.6,0,1,1,0.6,0M0.33,0A0.33,0.33,0,1,1,-0.33,0A0.33,0.33,0,1,1,0.33,0M0.1,0A0.1,0.1,0,1,1,-0.1,0A0.1,0.1,0,1,1,0.1,0","M-2.2,0L2.2,0M0,-0.75L0.68,0.45L-0.68,0.45ZM0,-0.4L0.37,0.25L-0.37,0.25ZM0,-0.1L0.12,0.12L-0.12,0.12Z","M-2.2,0L2.2,0M-0.55,-0.55L0.55,-0.55L0.55,0.55L-0.55,0.55ZM-0.3,-0.3L0.3,-0.3L0.3,0.3L-0.3,0.3ZM-0.08,-0.08L0.08,-0.08L0.08,0.08L-0.08,0.08Z"]},"legend":{"title":null,"orient":"none","legendX":21,"legendY":124,"padding":0,"symbolSize":225,"symbolStrokeWidth":2.5,"symbolOpacity":1,"symbolFillColor":"transparent","labelFontSize":15.5,"labelOffset":14,"rowPadding":1.5}},
    "stroke":{"field":"sig","type":"nominal","scale":{"domain":["VGS","ID","VDS"],"range":["#0000ff","#ff0000","#000000"]},"legend":{"title":null,"orient":"none","legendX":21,"legendY":124,"padding":0,"symbolSize":225,"symbolStrokeWidth":2.5,"symbolOpacity":1,"symbolFillColor":"transparent","labelFontSize":15.5,"labelOffset":14,"rowPadding":1.5}}
   }},
  {"data":{"name":"ann"},"mark":{"type":"text","align":"left","baseline":"top","fontSize":18,"lineBreak":"\n","lineHeight":22,"font":"Liberation Sans","color":"black"},"encoding":{"text":{"field":"label"}}},
  {"data":{"name":"arrow"},"mark":{"type":"line","color":"black","strokeWidth":3},"encoding":{}},
  {"data":{"name":"head"},"mark":{"type":"point","shape":"triangle-right","filled":true,"color":"black","size":220,"angle":-6,"opacity":1},"encoding":{}}
 ]
 },
 {
 "encoding":{
  "x":{"field":"t","type":"quantitative","scale":{"domain":[-200,400],"nice":false},"axis":{"orient":"top","values":[-200,-150,-100,-50,0,50,100,150,200,250,300,350,400],"labels":false,"title":null,"tickSize":{"condition":{"test":"datum.value % 100 != 0","value":-3.5},"value":-7}}},
  "y":{"field":"v","type":"quantitative","scale":{"domain":[-0.1,0.7],"nice":false,"zero":false},"axis":{"orient":"right","values":[0,0.1,0.2,0.3,0.4,0.5,0.6],"labelExpr":"round(datum.value*10) % 2 == 0 ? format(datum.value, '.1f') : ''","tickSize":{"condition":{"test":"round(datum.value*10) % 2 != 0","value":-3.5},"value":-7},"labelPadding":9,"title":"Drain source voltage VDS (kV)","titleFontSize":21,"titleAngle":270,"titleBaseline":"top","titlePadding":3}}
 },
 "layer":[
  {"data":{"name":"a"},"transform":[{"filter":"datum.sig == 'VDS'"}],"mark":{"type":"line","strokeWidth":2.5,"interpolate":"monotone"},
   "encoding":{"detail":{"field":"st"},
    "stroke":{"field":"sig","type":"nominal","scale":{"domain":["VGS","ID","VDS"],"range":["#0000ff","#ff0000","#000000"]},"legend":{"title":null,"orient":"none","legendX":21,"legendY":124,"padding":0,"symbolSize":225,"symbolStrokeWidth":2.5,"symbolOpacity":1,"symbolFillColor":"transparent","labelFontSize":15.5,"labelOffset":14,"rowPadding":1.5}}}},
  {"data":{"name":"aMark"},"transform":[{"filter":"datum.sig == 'VDS'"},{"calculate":"datum.st=='n'?'not stressed':(datum.sig=='VGS'?'stressed':datum.sig)","as":"fk"}],"mark":{"type":"point","shape":"square","filled":true,"size":70,"strokeWidth":1.6,"opacity":1},
   "encoding":{
    "stroke":{"field":"sig","type":"nominal","scale":{"domain":["VGS","ID","VDS"],"range":["#0000ff","#ff0000","#000000"]},"legend":{"title":null,"orient":"none","legendX":21,"legendY":124,"padding":0,"symbolSize":225,"symbolStrokeWidth":2.5,"symbolOpacity":1,"symbolFillColor":"transparent","labelFontSize":15.5,"labelOffset":14,"rowPadding":1.5}},
    "fill":{"field":"fk","type":"nominal","scale":{"domain":["not stressed","stressed","ID","VDS"],"range":["#ffffff","#0000ff","#ff0000","#000000"]},"legend":{"title":null,"orient":"none","legendX":21,"legendY":68,"padding":0,"values":["not stressed","stressed"],"symbolType":"M-2.2,0L-0.61,0M0.61,0L2.2,0M0.61,0A0.61,0.61,0,1,1,-0.61,0A0.61,0.61,0,1,1,0.61,0Z","symbolSize":225,"symbolStrokeColor":"#0000ff","symbolStrokeWidth":2.5,"symbolOpacity":1,"labelFontSize":15.5,"labelOffset":14,"rowPadding":0}}
   }}
 ]
 }
],
"resolve":{"scale":{"y":"independent"},"axis":{"x":"independent"}}
},
{
"width":406,"height":301,
"title":{"text":"(b)","orient":"bottom","font":"Liberation Serif","fontSize":21,"fontWeight":"normal","offset":28,"anchor":"middle","frame":"bounds","color":"black"},
"layer":[
 {
 "encoding":{
  "x":{"field":"t","type":"quantitative","scale":{"domain":[-50,100],"nice":false},"axis":{"orient":"bottom","values":[-40,-30,-20,-10,0,10,20,30,40,50,60,70,80,90,100],"labelExpr":"datum.value % 20 == 0 ? '' + datum.value : ''","tickSize":{"condition":{"test":"datum.value % 20 != 0","value":-3.5},"value":-7},"labelPadding":13,"title":"Time (ns)","titlePadding":10}},
  "y":{"field":"v","type":"quantitative","scale":{"domain":[-10,35],"nice":false,"zero":false},"axis":{"orient":"left","values":[-10,-5,0,5,10,15,20,25,30],"labelExpr":"datum.value % 10 == 0 ? '' + datum.value : ''","tickSize":{"condition":{"test":"datum.value % 10 != 0","value":-3.5},"value":-7},"labelPadding":13,"title":["Gate-source voltage VGS (V),","drain current ID (A)"],"titleLineHeight":36,"titlePadding":4}}
 },
 "layer":[
  {"data":{"name":"b"},"transform":[{"filter":"datum.sig != 'VDS'"}],"mark":{"type":"line","strokeWidth":2.5,"interpolate":"monotone"},
   "encoding":{"detail":{"field":"st"},
    "stroke":{"field":"sig","type":"nominal","scale":{"domain":["VGS","ID","VDS"],"range":["#0000ff","#ff0000","#000000"]},"legend":{"title":null,"orient":"none","legendX":268,"legendY":120,"padding":0,"symbolSize":256,"symbolStrokeWidth":2.5,"symbolOpacity":1,"symbolFillColor":"transparent","labelFontSize":16,"labelOffset":15,"rowPadding":6}}}},
  {"data":{"name":"bMark"},"transform":[{"filter":"datum.sig == 'VGS'"},{"calculate":"datum.st=='n'?'not stressed':(datum.sig=='VGS'?'stressed':datum.sig)","as":"fk"}],"mark":{"type":"point","shape":"circle","filled":true,"size":90,"strokeWidth":1.6,"opacity":1},
   "encoding":{
    "stroke":{"field":"sig","type":"nominal","scale":{"domain":["VGS","ID","VDS"],"range":["#0000ff","#ff0000","#000000"]},"legend":{"title":null,"orient":"none","legendX":268,"legendY":120,"padding":0,"symbolSize":256,"symbolStrokeWidth":2.5,"symbolOpacity":1,"symbolFillColor":"transparent","labelFontSize":16,"labelOffset":15,"rowPadding":6}},
    "fill":{"field":"fk","type":"nominal","scale":{"domain":["not stressed","stressed","ID","VDS"],"range":["#ffffff","#0000ff","#ff0000","#000000"]},"legend":{"title":null,"orient":"none","legendX":268,"legendY":57,"padding":0,"values":["not stressed","stressed"],"symbolType":"M-2.25,0L-0.62,0M0.62,0L2.25,0M0.62,0A0.62,0.62,0,1,1,-0.62,0A0.62,0.62,0,1,1,0.62,0Z","symbolSize":256,"symbolStrokeColor":"#0000ff","symbolStrokeWidth":2.5,"symbolOpacity":1,"labelFontSize":16,"labelOffset":15,"rowPadding":0.5}}
   }},
  {"data":{"name":"bMark"},"transform":[{"filter":"datum.sig == 'ID'"},{"calculate":"datum.st=='n'?'not stressed':(datum.sig=='VGS'?'stressed':datum.sig)","as":"fk"}],"mark":{"type":"point","shape":"triangle-up","filled":true,"size":90,"strokeWidth":1.6,"opacity":1},
   "encoding":{
    "stroke":{"field":"sig","type":"nominal","scale":{"domain":["VGS","ID","VDS"],"range":["#0000ff","#ff0000","#000000"]},"legend":{"title":null,"orient":"none","legendX":268,"legendY":120,"padding":0,"symbolSize":256,"symbolStrokeWidth":2.5,"symbolOpacity":1,"symbolFillColor":"transparent","labelFontSize":16,"labelOffset":15,"rowPadding":6}},
    "fill":{"field":"fk","type":"nominal","scale":{"domain":["not stressed","stressed","ID","VDS"],"range":["#ffffff","#0000ff","#ff0000","#000000"]},"legend":{"title":null,"orient":"none","legendX":268,"legendY":57,"padding":0,"values":["not stressed","stressed"],"symbolType":"M-2.25,0L-0.62,0M0.62,0L2.25,0M0.62,0A0.62,0.62,0,1,1,-0.62,0A0.62,0.62,0,1,1,0.62,0Z","symbolSize":256,"symbolStrokeColor":"#0000ff","symbolStrokeWidth":2.5,"symbolOpacity":1,"labelFontSize":16,"labelOffset":15,"rowPadding":0.5}}
   }},
  {"data":{"name":"bMark"},"transform":[{"filter":"datum.sig != 'VDS'"}],"mark":{"type":"point","filled":false,"size":10,"opacity":0,"clip":true},
   "encoding":{
    "shape":{"field":"sig","type":"nominal","scale":{"domain":["VGS","ID","VDS"],"range":["M-2.25,0L2.25,0M0.6,0A0.6,0.6,0,1,1,-0.6,0A0.6,0.6,0,1,1,0.6,0M0.33,0A0.33,0.33,0,1,1,-0.33,0A0.33,0.33,0,1,1,0.33,0M0.1,0A0.1,0.1,0,1,1,-0.1,0A0.1,0.1,0,1,1,0.1,0","M-2.25,0L2.25,0M0,-0.75L0.68,0.45L-0.68,0.45ZM0,-0.4L0.37,0.25L-0.37,0.25ZM0,-0.1L0.12,0.12L-0.12,0.12Z","M-2.25,0L2.25,0M-0.55,-0.55L0.55,-0.55L0.55,0.55L-0.55,0.55ZM-0.3,-0.3L0.3,-0.3L0.3,0.3L-0.3,0.3ZM-0.08,-0.08L0.08,-0.08L0.08,0.08L-0.08,0.08Z"]},"legend":{"title":null,"orient":"none","legendX":268,"legendY":120,"padding":0,"symbolSize":256,"symbolStrokeWidth":2.5,"symbolOpacity":1,"symbolFillColor":"transparent","labelFontSize":16,"labelOffset":15,"rowPadding":6}},
    "stroke":{"field":"sig","type":"nominal","scale":{"domain":["VGS","ID","VDS"],"range":["#0000ff","#ff0000","#000000"]},"legend":{"title":null,"orient":"none","legendX":268,"legendY":120,"padding":0,"symbolSize":256,"symbolStrokeWidth":2.5,"symbolOpacity":1,"symbolFillColor":"transparent","labelFontSize":16,"labelOffset":15,"rowPadding":6}}
   }}
 ]
 },
 {
 "encoding":{
  "x":{"field":"t","type":"quantitative","scale":{"domain":[-50,100],"nice":false},"axis":{"orient":"top","values":[-40,-30,-20,-10,0,10,20,30,40,50,60,70,80,90,100],"labels":false,"title":null,"tickSize":{"condition":{"test":"datum.value % 20 != 0","value":-3.5},"value":-7}}},
  "y":{"field":"v","type":"quantitative","scale":{"domain":[-100,700],"nice":false,"zero":false},"axis":{"orient":"right","values":[0,100,200,300,400,500,600],"labelExpr":"datum.value % 200 == 0 ? '' + datum.value : ''","tickSize":{"condition":{"test":"datum.value % 200 != 0","value":-3.5},"value":-7},"labelPadding":12,"title":"Drain-source voltage VDS (V)","titleFontSize":22,"titleAngle":270,"titleBaseline":"top","titlePadding":7}}
 },
 "layer":[
  {"data":{"name":"b"},"transform":[{"filter":"datum.sig == 'VDS'"}],"mark":{"type":"line","strokeWidth":2.5,"interpolate":"monotone"},
   "encoding":{"detail":{"field":"st"},
    "stroke":{"field":"sig","type":"nominal","scale":{"domain":["VGS","ID","VDS"],"range":["#0000ff","#ff0000","#000000"]},"legend":{"title":null,"orient":"none","legendX":268,"legendY":120,"padding":0,"symbolSize":256,"symbolStrokeWidth":2.5,"symbolOpacity":1,"symbolFillColor":"transparent","labelFontSize":16,"labelOffset":15,"rowPadding":6}}}},
  {"data":{"name":"bMark"},"transform":[{"filter":"datum.sig == 'VDS'"},{"calculate":"datum.st=='n'?'not stressed':(datum.sig=='VGS'?'stressed':datum.sig)","as":"fk"}],"mark":{"type":"point","shape":"square","filled":true,"size":80,"strokeWidth":1.6,"opacity":1},
   "encoding":{
    "stroke":{"field":"sig","type":"nominal","scale":{"domain":["VGS","ID","VDS"],"range":["#0000ff","#ff0000","#000000"]},"legend":{"title":null,"orient":"none","legendX":268,"legendY":120,"padding":0,"symbolSize":256,"symbolStrokeWidth":2.5,"symbolOpacity":1,"symbolFillColor":"transparent","labelFontSize":16,"labelOffset":15,"rowPadding":6}},
    "fill":{"field":"fk","type":"nominal","scale":{"domain":["not stressed","stressed","ID","VDS"],"range":["#ffffff","#0000ff","#ff0000","#000000"]},"legend":{"title":null,"orient":"none","legendX":268,"legendY":57,"padding":0,"values":["not stressed","stressed"],"symbolType":"M-2.25,0L-0.62,0M0.62,0L2.25,0M0.62,0A0.62,0.62,0,1,1,-0.62,0A0.62,0.62,0,1,1,0.62,0Z","symbolSize":256,"symbolStrokeColor":"#0000ff","symbolStrokeWidth":2.5,"symbolOpacity":1,"labelFontSize":16,"labelOffset":15,"rowPadding":0.5}}
   }}
 ]
 }
],
"resolve":{"scale":{"y":"independent"},"axis":{"x":"independent"}}
}
],
"spacing":122,
"resolve":{"scale":{"x":"independent","y":"independent","stroke":"independent","shape":"independent","fill":"independent"}}
}
